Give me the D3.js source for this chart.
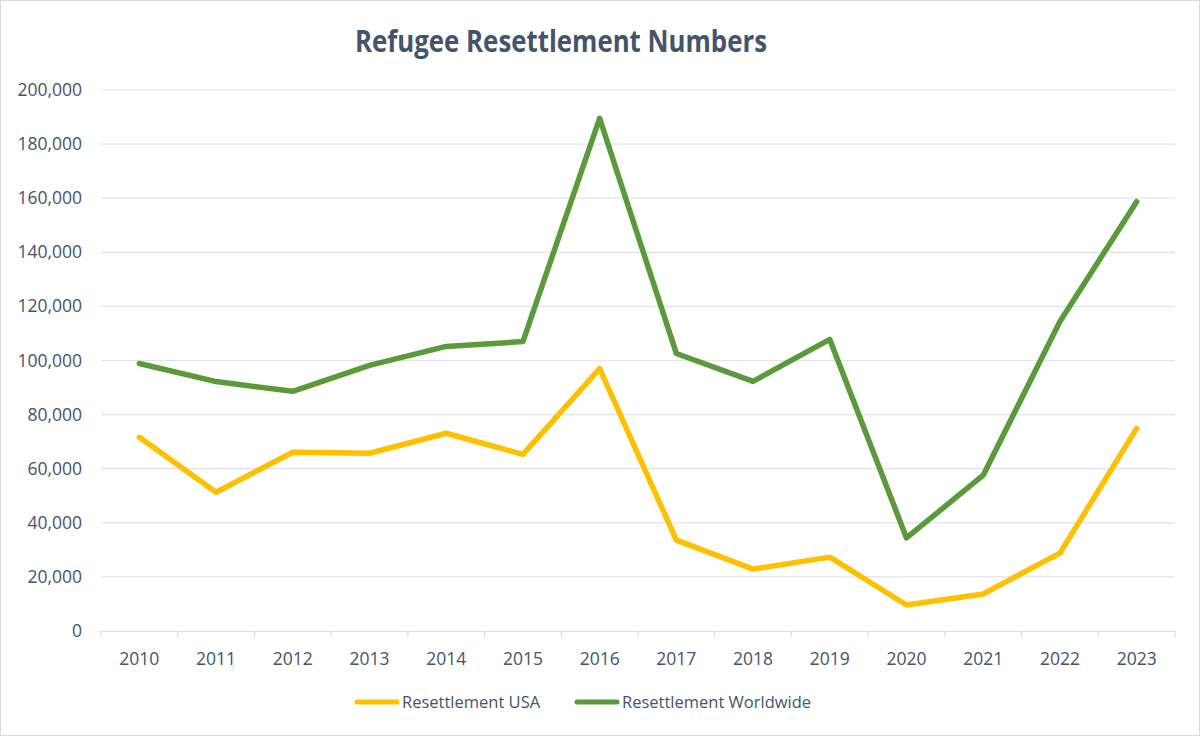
<!DOCTYPE html>
<html><head><meta charset="utf-8">
<script src="https://cdn.jsdelivr.net/npm/d3@7"></script>
<style>body{margin:0;background:#fff}svg{display:block}text{font-family:"Open Sans",Lato,sans-serif}</style>
</head><body>
<svg id="c" width="1200" height="736"></svg>
<script>
const years = ["2010","2011","2012","2013","2014","2015","2016","2017","2018","2019","2020","2021","2022","2023"];
const usa = [71600,51300,66100,65700,73100,65300,97000,33600,22900,27300,9600,13700,28800,74900];
const worldwide = [98900,92200,88600,98200,105200,107000,189500,102600,92300,107800,34400,57600,114400,158700];
const yTicks = [0,20000,40000,60000,80000,100000,120000,140000,160000,180000,200000];
const seriesNames = ["Resettlement USA","Resettlement Worldwide"];
const colors = ["#FFC000","#5B9A3A"];

const svg = d3.select("#c");
svg.append("rect").attr("x",0.5).attr("y",0.5).attr("width",1199).attr("height",735)
  .attr("fill","#fff").attr("stroke","#d9d9d9");

const L=101, R=1175, T=90, B=631;
const x = d3.scaleBand().domain(years).range([L,R]);
const y = d3.scaleLinear().domain([0,200000]).range([B,T]);

svg.append("text").attr("x",561).attr("y",52).attr("text-anchor","middle")
  .attr("font-size",30).attr("font-weight",700).attr("fill","#44546A")
  .attr("textLength",412).attr("lengthAdjust","spacingAndGlyphs")
  .text("Refugee Resettlement Numbers");

// grid
svg.append("g").selectAll("line").data(yTicks.slice(1)).join("line")
  .attr("x1",L).attr("x2",R).attr("y1",d=>y(d)).attr("y2",d=>y(d))
  .attr("stroke","#dfe3ea").attr("stroke-width",1.2);

// y axis labels
const fmt = d3.format(",");
svg.append("g").selectAll("text").data(yTicks).join("text")
  .attr("x",82).attr("y",d=>y(d)+6).attr("text-anchor","end")
  .attr("font-size",17.5).attr("fill","#44546A").text(d=>fmt(d));

// x axis
const xAxis = svg.append("g").attr("transform",`translate(0,${B})`)
  .call(d3.axisBottom(x).tickSize(0).tickPadding(0));
xAxis.select(".domain").attr("stroke","#d9dde4").attr("stroke-width",1.2);
xAxis.selectAll(".tick text").remove();
const bounds = years.map(d=>x(d)).concat([R]);
svg.append("g").selectAll("line").data(bounds).join("line")
  .attr("x1",d=>d).attr("x2",d=>d).attr("y1",B).attr("y2",B+6)
  .attr("stroke","#d9dde4").attr("stroke-width",1.2);
svg.append("g").selectAll("text").data(years).join("text")
  .attr("x",d=>x(d)+x.bandwidth()/2).attr("y",B+34).attr("text-anchor","middle")
  .attr("font-size",17.5).attr("fill","#44546A").text(d=>d);

// lines
const line = d3.line().x((d,i)=>x(years[i])+x.bandwidth()/2).y(d=>y(d));
[usa,worldwide].forEach((s,i)=>{
  svg.append("path").datum(s).attr("d",line).attr("fill","none")
    .attr("stroke",colors[i]).attr("stroke-width",5.5).attr("stroke-linejoin","round").attr("stroke-linecap","round");
});

// legend
const leg = [{x:357,tx:402},{x:577,tx:622}];
seriesNames.forEach((n,i)=>{
  svg.append("line").attr("x1",leg[i].x).attr("x2",leg[i].x+40).attr("y1",702).attr("y2",702)
    .attr("stroke",colors[i]).attr("stroke-width",5).attr("stroke-linecap","round");
  svg.append("text").attr("x",leg[i].tx).attr("y",708).attr("font-size",16.5).attr("fill","#44546A").text(n);
});
</script>
</body></html>
